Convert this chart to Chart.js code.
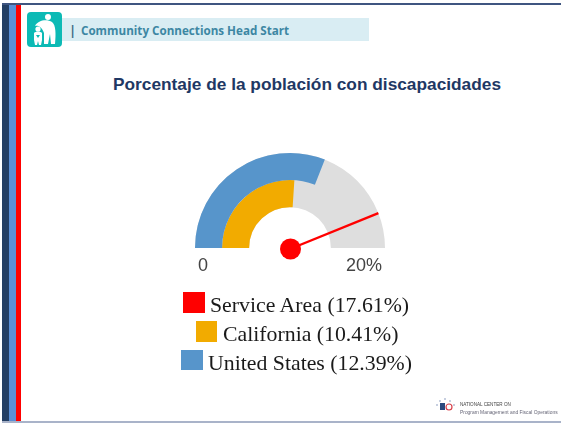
<!DOCTYPE html>
<html lang="es">
<head>
<meta charset="utf-8">
<script src="https://cdn.jsdelivr.net/npm/chart.js@4"></script>
<style>
html,body{margin:0;padding:0;background:#fff;}
#page{position:relative;width:561px;height:423px;overflow:hidden;background:#fff;}
#page div,#page span{position:absolute;white-space:nowrap;}
#c{position:absolute;left:0;top:0;}
.band{top:3px;bottom:1px;}
.lg{font-family:"Liberation Serif",serif;font-size:21.8px;line-height:24px;color:#1a1a1a;}
.tick{font-family:"Liberation Sans",Arial,sans-serif;font-size:18px;line-height:20px;color:#444;}
</style>
</head>
<body>
<div id="page">
  <div class="band" style="left:2px;width:7px;background:#243f63"></div>
  <div class="band" style="left:9px;width:7px;background:#5a8fd6"></div>
  <div class="band" style="left:16px;width:5px;background:#ff0000"></div>
  <div style="left:2px;right:0;top:3px;height:2px;background:#3f5580"></div>
  <div style="left:2px;right:0;top:421px;height:2px;background:#a9b3c9"></div>

  <div style="left:62px;top:18px;width:307px;height:23px;background:#d9edf3"></div>
  <div style="left:27px;top:12px;width:35px;height:35px;border-radius:4px;background:#0cbab5"></div>
  <svg style="position:absolute;left:27px;top:12px" width="35" height="35" viewBox="0 0 35 35">
    <g fill="#fff">
      <circle cx="21" cy="5" r="3"/>
      <path d="M8 14 C11 8 20 7 25 10 C29 13 29 22 28 32 L24 32 L23 22 L21 32 L17 32 L17 21 C15 15 11 13 8 14Z"/>
      <circle cx="11" cy="17" r="2.6"/>
      <path d="M7 21 C9 19 13 19 15 21 L15 28 L14 33 L12 33 L11 29 L10 33 L8 33 L7 28Z"/>
    </g>
    <path d="M9 23 L13 23 L11 26Z" fill="#0cbab5"/>
  </svg>
  <div style="left:69px;top:21px;font:bold 13px/18px 'Open Sans',sans-serif;color:#3e6d86">|</div>
  <div id="header" style="left:81px;top:22px;font:bold 11.65px/18px 'Open Sans',sans-serif;color:#3d87a3"></div>
  <div id="title" style="left:113px;top:73px;font:bold 17.3px/22px 'Liberation Sans',Arial,sans-serif;color:#1f3864"></div>

  <canvas id="c" width="561" height="423"></canvas>

  <div id="tickMin" class="tick" style="left:198px;top:255px"></div>
  <div id="tickMax" class="tick" style="left:346px;top:255px"></div>

  <div id="legend"></div>

  <svg style="position:absolute;left:434px;top:398px" width="24" height="20" viewBox="0 0 24 20">
    <g fill="#7f93b8"><circle cx="3" cy="7" r=".8"/><circle cx="6" cy="3" r=".8"/><circle cx="11" cy="1" r=".8"/><circle cx="16" cy="3" r=".8"/><circle cx="20" cy="7" r=".8"/></g>
    <rect x="6" y="5" width="5" height="7" fill="#2b4a7e"/>
    <circle cx="15" cy="9" r="3" fill="none" stroke="#d8414a" stroke-width="1.2"/>
  </svg>
  <div id="ftr1" style="left:460px;top:402px;font:4.6px/6px 'Liberation Sans',Arial,sans-serif;color:#444"></div>
  <div id="ftr2" style="left:460px;top:410px;font:4.9px/6px 'Liberation Sans',Arial,sans-serif;color:#667"></div>
</div>

<script>
const headerText = "Community Connections Head Start";
const titleText = "Porcentaje de la población con discapacidades";
const footerLines = ["NATIONAL CENTER ON", "Program Management and Fiscal Operations"];
const categories = ["Service Area", "California", "United States"];
const seriesValues = [17.61, 10.41, 12.39];
const seriesColors = ["#ff0000", "#f2ab00", "#5795cb"];
const tickLabels = ["0", "20%"];
const gaugeMax = 20;
const trackColor = "#dedede";

document.getElementById("header").textContent = headerText;
document.getElementById("title").textContent = titleText;
document.getElementById("tickMin").textContent = tickLabels[0];
document.getElementById("tickMax").textContent = tickLabels[1];
document.getElementById("ftr1").textContent = footerLines[0];
document.getElementById("ftr2").textContent = footerLines[1];

const legendLayout = [
  {sx:183, sy:292, sw:22, sh:21, tx:210, ty:293},
  {sx:196, sy:321, sw:21, sh:21, tx:223, ty:322},
  {sx:181, sy:350, sw:22, sh:20, tx:208, ty:351}
];
const legendEl = document.getElementById("legend");
categories.forEach((name, i) => {
  const p = legendLayout[i];
  const s = document.createElement("div");
  s.style.cssText = `left:${p.sx}px;top:${p.sy}px;width:${p.sw}px;height:${p.sh}px;background:${seriesColors[i]}`;
  const t = document.createElement("div");
  t.className = "lg";
  t.style.cssText = `left:${p.tx}px;top:${p.ty}px`;
  t.textContent = `${name} (${seriesValues[i].toFixed(2)}%)`;
  legendEl.append(s, t);
});

const gaugePlugin = {
  id: "gauge",
  beforeDatasetsDraw(chart) {
    const outer = chart.getDatasetMeta(0).data[0];
    const inner = chart.getDatasetMeta(1).data[0];
    const ctx = chart.ctx;
    ctx.save();
    ctx.fillStyle = trackColor;
    ctx.beginPath();
    ctx.arc(outer.x, outer.y, outer.outerRadius, Math.PI, 2 * Math.PI);
    ctx.arc(outer.x, outer.y, inner.innerRadius, 2 * Math.PI, Math.PI, true);
    ctx.closePath();
    ctx.fill();
    ctx.restore();
  },
  afterDatasetsDraw(chart) {
    const arc = chart.getDatasetMeta(0).data[0];
    const {x, y, outerRadius} = arc;
    const a = Math.PI + Math.PI * seriesValues[0] / gaugeMax;
    const ctx = chart.ctx;
    ctx.save();
    ctx.strokeStyle = seriesColors[0];
    ctx.lineWidth = 2.4;
    ctx.beginPath();
    ctx.moveTo(x, y + 1);
    ctx.lineTo(x + Math.cos(a) * outerRadius, y + Math.sin(a) * outerRadius);
    ctx.stroke();
    ctx.fillStyle = seriesColors[0];
    ctx.beginPath();
    ctx.arc(x + 0.5, y + 1, 10.5, 0, Math.PI * 2);
    ctx.fill();
    ctx.restore();
  }
};

new Chart(document.getElementById("c"), {
  type: "doughnut",
  data: {
    labels: ["value", "rest"],
    datasets: [
      {data: [seriesValues[2], gaugeMax - seriesValues[2]], backgroundColor: [seriesColors[2], "transparent"], borderWidth: 0},
      {data: [seriesValues[1], gaugeMax - seriesValues[1]], backgroundColor: [seriesColors[1], "transparent"], borderWidth: 0}
    ]
  },
  options: {
    responsive: false,
    animation: false,
    rotation: -90,
    circumference: 180,
    cutout: "43%",
    layout: {padding: {left: 195, right: 176, top: 153, bottom: 175}},
    plugins: {legend: {display: false}, tooltip: {enabled: false}}
  },
  plugins: [gaugePlugin]
});
</script>
</body>
</html>
